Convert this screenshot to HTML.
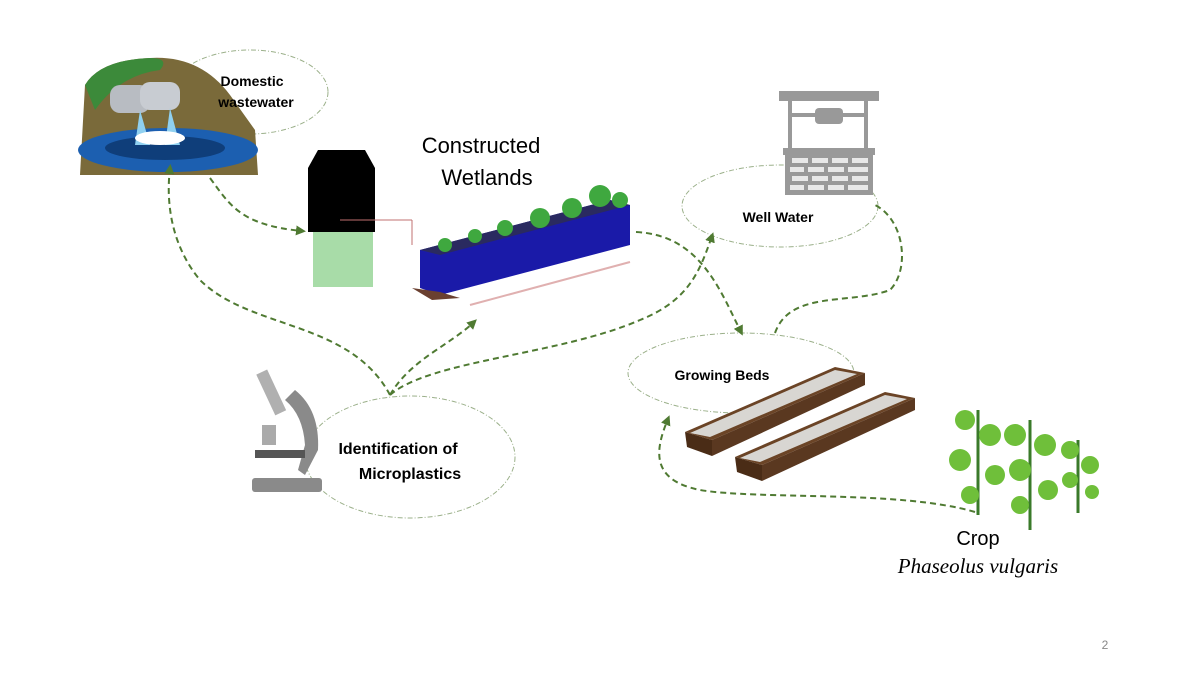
<!DOCTYPE html>
<html><head><meta charset="utf-8"><style>
body{margin:0;background:#fff;}
svg{display:block;font-family:"Liberation Sans",sans-serif;}
</style></head><body>
<svg width="1200" height="675" viewBox="0 0 1200 675" xmlns="http://www.w3.org/2000/svg">
<defs>
<marker id="ah" viewBox="0 0 10 10" refX="6" refY="5" markerWidth="5" markerHeight="5" orient="auto"><path d="M0,0L10,5L0,10z" fill="#4f7a32"/></marker>
<g id="bed">
<path d="M685,432 L835,367 L865,373 L712,440 Z" fill="#6b4426"/>
<path d="M690,433 L835,370 L857,374 L710,437 Z" fill="#d8d6d2"/>
<path d="M685,432 L712,440 L712,456 L687,447 Z" fill="#4a2c16"/>
<path d="M712,440 L865,373 L865,385 L712,456 Z" fill="#5a3820"/>
</g>
</defs>
<g fill="none" stroke="#9bb08a" stroke-width="1" stroke-dasharray="5,2,1,2">
<ellipse cx="250" cy="92" rx="78" ry="42"/>
<ellipse cx="780" cy="206" rx="98" ry="41"/>
<ellipse cx="741" cy="373" rx="113" ry="40"/>
<ellipse cx="410" cy="457" rx="105" ry="61"/>
</g>
<path d="M85,85 Q100,60 150,58 Q200,55 230,95 L255,130 L258,175 L80,175 Z" fill="#7a6a3a"/>
<path d="M85,85 Q100,60 150,58 Q170,58 160,70 Q120,75 95,110 Z" fill="#3c8a3a"/>
<ellipse cx="168" cy="150" rx="90" ry="22" fill="#1c5fb0"/>
<ellipse cx="165" cy="148" rx="60" ry="12" fill="#0f3e7a"/>
<rect x="110" y="85" width="40" height="28" rx="10" fill="#b8bcc2"/>
<rect x="140" y="82" width="40" height="28" rx="10" fill="#c8ccd2"/>
<path d="M140,110 L135,145 L150,145 Z M170,108 L165,145 L180,145 Z" fill="#8fd0f0"/>
<ellipse cx="160" cy="138" rx="25" ry="7" fill="#fff"/>
<path d="M318,150 L365,150 L375,168 L375,232 L308,232 L308,168 Z" fill="#000"/>
<rect x="313" y="232" width="60" height="55" fill="#a8dca8"/>
<line x1="340" y1="220" x2="412" y2="220" stroke="#c07070" stroke-width="1"/>
<line x1="412" y1="220" x2="412" y2="245" stroke="#c07070" stroke-width="1"/>
<path d="M420,250 L610,200 L630,205 L630,245 L440,295 L420,288 Z" fill="#1a1aa8"/>
<path d="M420,250 L610,200 L630,205 L440,255 Z" fill="#2a2a60"/>
<path d="M412,288 L440,292 L460,298 L432,300 Z" fill="#6a4030"/>
<line x1="470" y1="305" x2="630" y2="262" stroke="#e0b0b0" stroke-width="2"/>
<g fill="#3fa83f">
<circle cx="445" cy="245" r="7"/><circle cx="475" cy="236" r="7"/><circle cx="505" cy="228" r="8"/>
<circle cx="540" cy="218" r="10"/><circle cx="572" cy="208" r="10"/><circle cx="600" cy="196" r="11"/><circle cx="620" cy="200" r="8"/>
</g>
<g fill="none" stroke="#999" stroke-width="4">
<rect x="781" y="93" width="96" height="6" fill="#999"/>
<line x1="790" y1="99" x2="790" y2="150"/><line x1="866" y1="99" x2="866" y2="150"/>
<line x1="790" y1="115" x2="866" y2="115"/>
</g>
<rect x="815" y="108" width="28" height="16" rx="4" fill="#999"/>
<rect x="783" y="148" width="92" height="7" fill="#999"/>
<rect x="785" y="155" width="88" height="40" fill="#999"/>
<g fill="#e8e8e8">
<rect x="792" y="158" width="16" height="5"/><rect x="812" y="158" width="16" height="5"/><rect x="832" y="158" width="16" height="5"/><rect x="852" y="158" width="16" height="5"/>
<rect x="790" y="167" width="14" height="5"/><rect x="808" y="167" width="16" height="5"/><rect x="828" y="167" width="16" height="5"/><rect x="848" y="167" width="20" height="5"/>
<rect x="792" y="176" width="16" height="5"/><rect x="812" y="176" width="16" height="5"/><rect x="832" y="176" width="16" height="5"/><rect x="852" y="176" width="16" height="5"/>
<rect x="790" y="185" width="14" height="5"/><rect x="808" y="185" width="16" height="5"/><rect x="828" y="185" width="16" height="5"/><rect x="848" y="185" width="20" height="5"/>
</g>
<use href="#bed"/>
<use href="#bed" transform="translate(50,25)"/>
<g stroke="#3a7a2a" stroke-width="3"><line x1="978" y1="410" x2="978" y2="515"/><line x1="1030" y1="420" x2="1030" y2="530"/><line x1="1078" y1="440" x2="1078" y2="513"/></g>
<g fill="#6fbf3a">
<circle cx="965" cy="420" r="10"/><circle cx="990" cy="435" r="11"/><circle cx="960" cy="460" r="11"/><circle cx="995" cy="475" r="10"/><circle cx="970" cy="495" r="9"/>
<circle cx="1015" cy="435" r="11"/><circle cx="1045" cy="445" r="11"/><circle cx="1020" cy="470" r="11"/><circle cx="1048" cy="490" r="10"/><circle cx="1020" cy="505" r="9"/>
<circle cx="1070" cy="450" r="9"/><circle cx="1090" cy="465" r="9"/><circle cx="1070" cy="480" r="8"/><circle cx="1092" cy="492" r="7"/>
</g>
<g fill="#8a8a8a">
<rect x="252" y="478" width="70" height="14" rx="3"/>
<path d="M295,390 Q320,410 318,450 L305,475 L298,470 L305,445 Q303,415 285,400 Z"/>
<rect x="265" y="370" width="12" height="45" transform="rotate(-25 271 392)" fill="#b0b0b0"/>
<rect x="255" y="450" width="50" height="8" fill="#555"/>
<rect x="262" y="425" width="14" height="20" fill="#aaa"/>
</g>
<g fill="none" stroke="#4f7a32" stroke-width="2" stroke-dasharray="6,4" marker-end="url(#ah)">
<path d="M210,178 C230,205 240,225 302,231"/>
<path d="M390,395 C350,320 250,330 200,280 C175,250 165,210 170,168"/>
<path d="M390,395 C410,360 450,345 474,322"/>
<path d="M390,395 C430,360 560,355 640,320 C690,300 700,270 712,236"/>
<path d="M636,232 C700,235 720,290 741,332"/>
<path d="M775,333 C790,290 850,305 890,290 C910,270 905,220 875,205" marker-end="none"/>
<path d="M975,512 C900,490 760,500 700,490 C650,480 655,450 668,419"/>
</g>
<g font-weight="bold" font-size="14" text-anchor="middle" fill="#000">
<text x="252" y="86">Domestic</text>
<text x="256" y="107">wastewater</text>
<text x="778" y="222">Well Water</text>
<text x="722" y="380">Growing Beds</text>
<text x="398" y="454" font-size="16">Identification of</text>
<text x="410" y="479" font-size="16">Microplastics</text>
</g>
<text x="481" y="153" font-size="22" text-anchor="middle">Constructed</text>
<text x="487" y="185" font-size="22" text-anchor="middle">Wetlands</text>
<text x="978" y="545" font-size="20" text-anchor="middle">Crop</text>
<text x="978" y="573" font-size="21" font-style="italic" font-family="Liberation Serif,serif" text-anchor="middle">Phaseolus vulgaris</text>
<text x="1105" y="649" font-size="12" fill="#888" text-anchor="middle">2</text>
</svg>
</body></html>
